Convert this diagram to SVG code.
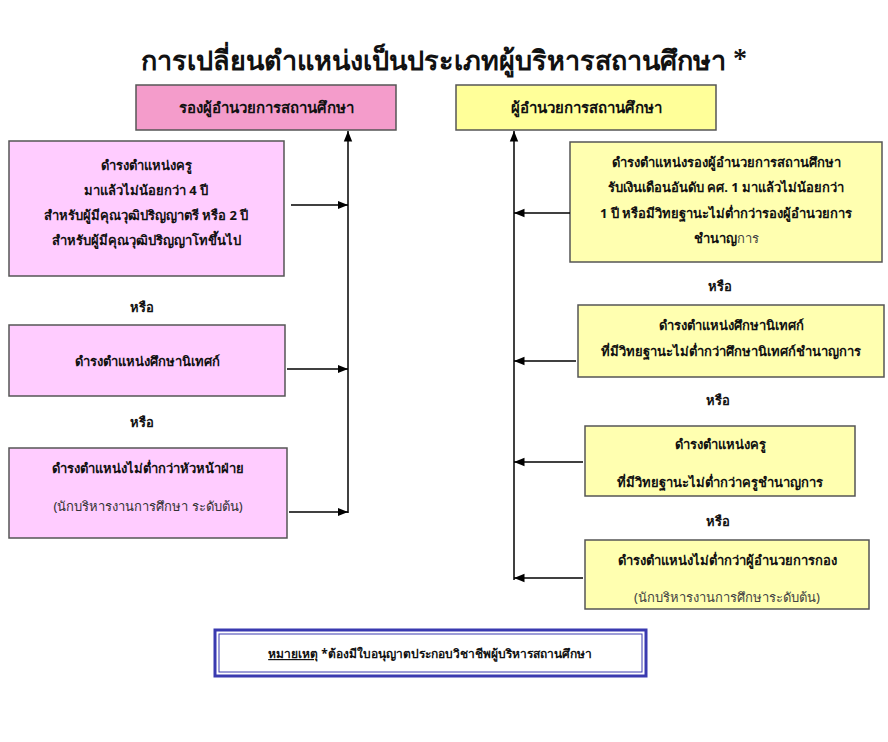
<svg xmlns="http://www.w3.org/2000/svg" width="888" height="742" viewBox="0 0 888 742">
<defs>
<marker id="ah" viewBox="0 0 10 10" refX="10" refY="5" markerWidth="7" markerHeight="7" orient="auto"><path d="M0,1 L10,5 L0,9 z" fill="#000"/></marker>
<style>
text{font-family:"Noto Sans","Liberation Sans",sans-serif;font-size:13px;fill:#111;text-anchor:middle;font-weight:bold}
.pk{fill:#ffccff;stroke:#555;stroke-width:1.5}
.ph{fill:#f49ccb;stroke:#555;stroke-width:1.5}
.yl{fill:#ffffb0;stroke:#555;stroke-width:1.5}
.ln{stroke:#000;stroke-width:1.5;fill:none}
.n{font-weight:normal}
</style>
</defs>
<rect width="888" height="742" fill="#fff"/>
<text x="444" y="70" style="font-size:27px;font-family:'Noto Serif','DejaVu Serif',serif">การเปลี่ยนตำแหน่งเป็นประเภทผู้บริหารสถานศึกษา *</text>
<g id="lh"><rect class="ph" x="136" y="85" width="260" height="45"/><text x="266" y="113" style="font-size:15px">รองผู้อำนวยการสถานศึกษา</text></g>
<g id="rh"><rect class="yl" x="456" y="85" width="260" height="45" style="fill:#ffff99"/><text x="586" y="113" style="font-size:15px">ผู้อำนวยการสถานศึกษา</text></g>
<g id="l1"><rect class="pk" x="9" y="141" width="275" height="135"/>
<text x="146" y="170">ดำรงตำแหน่งครู</text><text x="146" y="195">มาแล้วไม่น้อยกว่า 4 ปี</text><text x="146" y="220">สำหรับผู้มีคุณวุฒิปริญญาตรี  หรือ 2 ปี</text><text x="146" y="245">สำหรับผู้มีคุณวุฒิปริญญาโทขึ้นไป</text></g>
<text x="142" y="312">หรือ</text>
<g id="l2"><rect class="pk" x="9" y="325" width="276" height="71"/><text x="147" y="366">ดำรงตำแหน่งศึกษานิเทศก์</text></g>
<text x="142" y="427">หรือ</text>
<g id="l3"><rect class="pk" x="9" y="448" width="278" height="90"/><text x="148" y="473">ดำรงตำแหน่งไม่ต่ำกว่าหัวหน้าฝ่าย</text><text x="148" y="511" class="n" style="fill:#333">(นักบริหารงานการศึกษา ระดับต้น)</text></g>
<g id="r1"><rect class="yl" x="570" y="142" width="312" height="120"/>
<text x="726" y="167">ดำรงตำแหน่งรองผู้อำนวยการสถานศึกษา</text><text x="726" y="192">รับเงินเดือนอันดับ คศ. 1 มาแล้วไม่น้อยกว่า</text><text x="726" y="218">1 ปี หรือมีวิทยฐานะไม่ต่ำกว่ารองผู้อำนวยการ</text><text x="726" y="243">ชำนาญ<tspan class="n" style="fill:#444">การ</tspan></text></g>
<text x="720" y="291">หรือ</text>
<g id="r2"><rect class="yl" x="578" y="305" width="306" height="72"/><text x="731" y="330">ดำรงตำแหน่งศึกษานิเทศก์</text><text x="731" y="356">ที่มีวิทยฐานะไม่ต่ำกว่าศึกษานิเทศก์ชำนาญการ</text></g>
<text x="718" y="405">หรือ</text>
<g id="r3"><rect class="yl" x="585" y="426" width="270" height="70"/><text x="720" y="449">ดำรงตำแหน่งครู</text><text x="720" y="487">ที่มีวิทยฐานะไม่ต่ำกว่าครูชำนาญการ</text></g>
<text x="718" y="526">หรือ</text>
<g id="r4"><rect class="yl" x="585" y="540" width="284" height="69"/><text x="727" y="565">ดำรงตำแหน่งไม่ต่ำกว่าผู้อำนวยการกอง</text><text x="727" y="602" class="n" style="fill:#444">(นักบริหารงานการศึกษาระดับต้น)</text></g>
<g id="connectors">
<line class="ln" x1="348" y1="513" x2="348" y2="131" marker-end="url(#ah)"/>
<line class="ln" x1="291" y1="205" x2="348" y2="205" marker-end="url(#ah)"/>
<line class="ln" x1="287" y1="369" x2="348" y2="369" marker-end="url(#ah)"/>
<line class="ln" x1="289" y1="512" x2="348" y2="512" marker-end="url(#ah)"/>
<line class="ln" x1="514" y1="580" x2="514" y2="131" marker-end="url(#ah)"/>
<line class="ln" x1="570" y1="213" x2="514" y2="213" marker-end="url(#ah)"/>
<line class="ln" x1="576" y1="361" x2="514" y2="361" marker-end="url(#ah)"/>
<line class="ln" x1="583" y1="462" x2="514" y2="462" marker-end="url(#ah)"/>
<line class="ln" x1="583" y1="578" x2="514" y2="578" marker-end="url(#ah)"/>
</g>
<g id="note"><rect x="215" y="630" width="431" height="46" fill="#fff" stroke="#3a3ab0" stroke-width="3"/><rect x="219" y="634" width="423" height="38" fill="none" stroke="#3a3ab0" stroke-width="1"/>
<text x="430" y="658" style="font-size:12px"><tspan text-decoration="underline">หมายเหตุ</tspan>  *ต้องมีใบอนุญาตประกอบวิชาชีพผู้บริหารสถานศึกษา</text></g>
</svg>
